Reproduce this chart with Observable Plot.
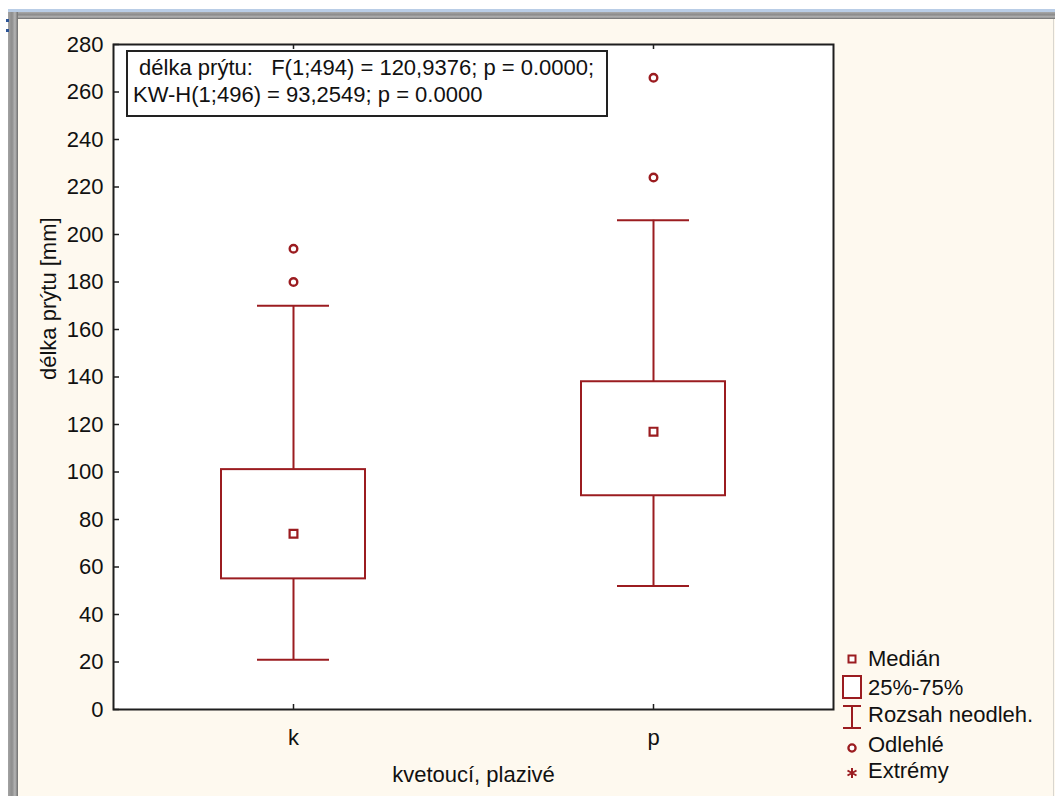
<!DOCTYPE html>
<html>
<head>
<meta charset="utf-8">
<script src="https://cdn.jsdelivr.net/npm/d3@7"></script>
<script src="https://cdn.jsdelivr.net/npm/@observablehq/plot@0.6"></script>
<style>
  body { margin: 0; background: #ffffff; }
  #wrap { position: relative; width: 1055px; height: 796px; overflow: hidden;
          font-family: "Liberation Sans", Arial, sans-serif; color: #111; }
  .abs { position: absolute; }
  #blue { left: 8px; right: 0; top: 9px; height: 3px; background: #b9cde6; }
  #grayTop { left: 8px; right: 0; top: 12px; height: 7px;
             background: linear-gradient(#a9a9a9, #8a8a8a 40%, #b3b3b3 70%, #6c6c6c); }
  #grayLeft { left: 8px; top: 12px; bottom: 0; width: 10px;
              background: linear-gradient(90deg, #a3a3a3, #8d8d8d 40%, #b5b5b5 70%, #6e6e6e); }
  #cream { left: 18px; top: 19px; right: 0; bottom: 0; background: #fef9ef; }
  #edge { right: 1px; top: 19px; bottom: 0; width: 1px; background: #d9d6cf; }
  .dot { width: 3px; height: 3px; background: #2d5596; left: 6px; }
  #stats { left: 126px; top: 50px; width: 482px; height: 67px; box-sizing: border-box;
           border: 2px solid #222; background: #fff; padding: 2px 0 0 5px;
           font-size: 22px; line-height: 27px; white-space: pre; }
  #plot { left: 0; top: 0; }
  #legend { left: 0; top: 0; }
</style>
</head>
<body>
<div id="wrap">
  <div class="abs" id="blue"></div>
  <div class="abs" id="grayTop"></div>
  <div class="abs" id="grayLeft"></div>
  <div class="abs dot" style="top:19px"></div>
  <div class="abs dot" style="top:29px"></div>
  <div class="abs" id="cream"></div>
  <div class="abs" id="edge"></div>
  <div class="abs" id="plot"></div>
  <div class="abs" id="stats"></div>
  <div class="abs" id="legend"></div>
</div>
<script>
// Box-plot summary per group (délka prýtu, mm)
const groups = ["k", "p"];
const whiskerLow = [21, 52];
const quartile1 = [55, 90];
const medians = [74, 117];
const quartile3 = [101, 138];
const whiskerHigh = [170, 206];

// Outlying values
const outlierGroups = ["k", "k", "p", "p"];
const outlierValues = [180, 194, 224, 266];

// Axis ticks and texts
const yTicks = [0, 20, 40, 60, 80, 100, 120, 140, 160, 180, 200, 220, 240, 260, 280];
const xTitle = "kvetoucí, plazivé";
const yTitle = "délka prýtu [mm]";
const statLines = [
  "\u00a0délka prýtu:\u00a0\u00a0\u00a0F(1;494) = 120,9376; p = 0.0000;",
  "KW-H(1;496) = 93,2549; p = 0.0000"
];
const legendLabels = ["Medián", "25%-75%", "Rozsah neodleh.", "Odlehlé", "Extrémy"];

const stats = groups.map((g, i) => ({
  group: g, lo: whiskerLow[i], q1: quartile1[i], median: medians[i], q3: quartile3[i], hi: whiskerHigh[i]
}));
const outliers = outlierGroups.map((g, i) => ({group: g, value: outlierValues[i]}));

const W = 1055, H = 796;
const mL = 113, mR = 222, mT = 44, mB = 87;
const plotW = W - mL - mR, plotH = H - mT - mB;
const red = "#9b1c20";
const ink = "#1e1e1e";
const font = "'Liberation Sans', Arial, sans-serif";

const chart = Plot.plot({
  width: W, height: H,
  marginLeft: mL, marginRight: mR, marginTop: mT, marginBottom: mB,
  style: {background: "transparent", fontFamily: font, fontSize: "22px", color: "#111"},
  x: {type: "band", domain: groups, paddingInner: 0.6, paddingOuter: 0.3, align: 0.5},
  y: {domain: [0, 280]},
  marks: [
    Plot.frame({fill: "white", stroke: null}),
    // whiskers
    Plot.ruleX(stats, {x: "group", y1: "lo", y2: "hi", stroke: red, strokeWidth: 2}),
    // interquartile box
    Plot.barY(stats, {x: "group", y1: "q1", y2: "q3", fill: "white", stroke: red, strokeWidth: 2}),
    // whisker caps
    Plot.tickY(stats, {x: "group", y: "lo", insetLeft: 36, insetRight: 36, stroke: red, strokeWidth: 2}),
    Plot.tickY(stats, {x: "group", y: "hi", insetLeft: 36, insetRight: 36, stroke: red, strokeWidth: 2}),
    // median
    Plot.dot(stats, {x: "group", y: "median", symbol: "square", r: 4.4, fill: "white", stroke: red, strokeWidth: 2.2}),
    // outliers
    Plot.dot(outliers, {x: "group", y: "value", r: 3.8, fill: "white", stroke: red, strokeWidth: 2.4}),
    // axes: labels outside, ticks pointing inward
    Plot.axisY({ticks: yTicks, tickSize: 0, tickPadding: 10, label: null, fontSize: 22}),
    Plot.ruleY(yTicks, {y: d => d, insetRight: plotW - 6, stroke: ink, strokeWidth: 1.5}),
    Plot.axisX({tickSize: 0, tickPadding: 20, label: null, fontSize: 22}),
    Plot.ruleX(groups, {x: d => d, insetBottom: plotH - 5, stroke: ink, strokeWidth: 1.5}),
    Plot.ruleX(groups, {x: d => d, insetTop: plotH - 5, stroke: ink, strokeWidth: 1.5}),
    Plot.frame({stroke: ink, strokeWidth: 2}),
    // axis titles
    Plot.text([xTitle], {frameAnchor: "bottom", lineAnchor: "bottom", dy: 72, fontSize: 22, fill: "#111"}),
    Plot.text([yTitle], {frameAnchor: "left", rotate: -90, lineAnchor: "bottom", dx: -58, dy: 3, fontSize: 22, fill: "#111"})
  ]
});
document.getElementById("plot").append(chart);

// statistics box
const statsBox = document.getElementById("stats");
statsBox.textContent = statLines.join("\n");

// legend with symbol samples
const leg = d3.select("#legend").append("svg")
  .attr("width", W).attr("height", H)
  .style("font-family", font).style("font-size", "22px");
const lx = 852, tx = 868;
const baselines = [666, 695, 722, 752, 778];
const g = leg.append("g").attr("fill", "none").attr("stroke", red).attr("stroke-width", 2);
// median square
g.append("rect").attr("x", lx - 3.5).attr("y", baselines[0] - 10.5).attr("width", 7).attr("height", 7).attr("fill", "white");
// quartile box
g.append("rect").attr("x", lx - 9).attr("y", baselines[1] - 19).attr("width", 18).attr("height", 22).attr("fill", "white");
// whisker range
g.append("path").attr("d", `M${lx - 9},${baselines[2] - 16}H${lx + 9}M${lx},${baselines[2] - 16}V${baselines[2] + 6}M${lx - 9},${baselines[2] + 6}H${lx + 9}`);
// outlier circle
g.append("circle").attr("cx", lx).attr("cy", baselines[3] - 4).attr("r", 3.6).attr("stroke-width", 2.3).attr("fill", "white");
// extreme asterisk
const ay = baselines[4] - 5;
g.append("path").attr("stroke-width", 2)
  .attr("d", `M${lx},${ay - 5}V${ay + 5}M${lx - 4.5},${ay - 2.5}L${lx + 4.5},${ay + 2.5}M${lx - 4.5},${ay + 2.5}L${lx + 4.5},${ay - 2.5}`);
leg.selectAll("text.lab").data(legendLabels).join("text")
  .attr("class", "lab")
  .attr("x", tx).attr("y", (d, i) => baselines[i])
  .attr("fill", "#111")
  .text(d => d);
</script>
</body>
</html>
